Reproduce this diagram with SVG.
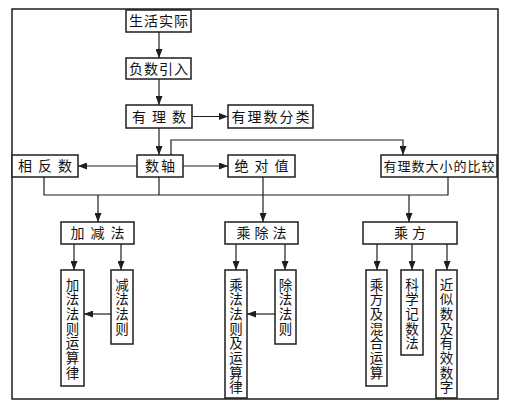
<svg xmlns="http://www.w3.org/2000/svg" width="516" height="413" viewBox="0 0 516 413">
<style>
.box{fill:#fff;stroke:#1e1e1e;stroke-width:1.5}
.frame{fill:none;stroke:#1e1e1e;stroke-width:1.5}
.ln{fill:none;stroke:#1e1e1e;stroke-width:1.2}
.t{font-family:"Noto Sans CJK SC","Noto Sans CJK TC",sans-serif;font-size:14px;fill:#111}
.s{font-size:13px}
.v{font-family:"Noto Sans CJK SC","Noto Sans CJK TC",sans-serif;font-size:13.5px;fill:#111;text-anchor:middle}
</style>
<defs>
<marker id="ah" markerUnits="userSpaceOnUse" markerWidth="9" markerHeight="7" refX="9" refY="3.5" orient="auto">
<path d="M0,0 L9,3.5 L0,7 z" fill="#1e1e1e"/>
</marker>
</defs>
<rect width="516" height="413" fill="#fff"/>
<rect class="frame" x="12" y="9" width="486" height="390"/>
<g id="connectors">
<path class="ln" d="M159,32 V58" marker-end="url(#ah)"/>
<path class="ln" d="M159,79 V105" marker-end="url(#ah)"/>
<path class="ln" d="M192,116.5 H228" marker-end="url(#ah)"/>
<path class="ln" d="M159,128 V155" marker-end="url(#ah)"/>
<path class="ln" d="M171,155 V140 H403 V155" marker-end="url(#ah)"/>
<path class="ln" d="M137,166 H78" marker-end="url(#ah)"/>
<path class="ln" d="M183,166 H228" marker-end="url(#ah)"/>
<path class="ln" d="M44,177 V195 H448 V177"/>
<path class="ln" d="M159,177 V195"/>
<path class="ln" d="M263,177 V222" marker-end="url(#ah)"/>
<path class="ln" d="M98,195 V222" marker-end="url(#ah)"/>
<path class="ln" d="M409,195 V222" marker-end="url(#ah)"/>
<path class="ln" d="M74,244 V270" marker-end="url(#ah)"/>
<path class="ln" d="M121,244 V270" marker-end="url(#ah)"/>
<path class="ln" d="M236,244 V270" marker-end="url(#ah)"/>
<path class="ln" d="M285,244 V270" marker-end="url(#ah)"/>
<path class="ln" d="M377,244 V270" marker-end="url(#ah)"/>
<path class="ln" d="M412,244 V270" marker-end="url(#ah)"/>
<path class="ln" d="M447,244 V270" marker-end="url(#ah)"/>
<path class="ln" d="M111,314 H84" marker-end="url(#ah)"/>
<path class="ln" d="M275,314 H247" marker-end="url(#ah)"/>
</g>
<g id="n1"><rect class="box" x="126" y="10" width="65" height="22"/><text class="t" x="129 144 159 174" y="26">生活实际</text></g>
<g id="n2"><rect class="box" x="126" y="58" width="65" height="21"/><text class="t" x="129 144 159 174" y="73.5">负数引入</text></g>
<g id="n3"><rect class="box" x="126" y="105" width="66" height="23"/><text class="t" x="132 152 172" y="121.5">有理数</text></g>
<g id="n4"><rect class="box" x="228" y="105" width="85" height="23"/><text class="t" x="231.5 247.5 263.5 279.5 295.5" y="121.5">有理数分类</text></g>
<g id="n5"><rect class="box" x="137" y="155" width="46" height="22"/><text class="t" x="145 161" y="171">数轴</text></g>
<g id="n6"><rect class="box" x="12" y="155" width="66" height="22"/><text class="t" x="18 38 58" y="171">相反数</text></g>
<g id="n7"><rect class="box" x="228" y="155" width="67" height="22"/><text class="t" x="234.5 254.5 274.5" y="171">绝对值</text></g>
<g id="n8"><rect class="box" x="381" y="155" width="116" height="22"/><text class="t s" x="383.5 397.5 411.5 425.5 439.5 453.5 467.5 481.5" y="170.5">有理数大小的比较</text></g>
<g id="n9"><rect class="box" x="61" y="222" width="73" height="22"/><text class="t" x="70.5 90.5 110.5" y="238">加减法</text></g>
<g id="n10"><rect class="box" x="225" y="222" width="73" height="22"/><text class="t" x="236.5 254.5 272.5" y="238">乘除法</text></g>
<g id="n11"><rect class="box" x="363" y="222" width="94" height="22"/><text class="t" x="394 412" y="238">乘方</text></g>
<g id="n12"><rect class="box" x="61" y="270" width="23" height="116"/><text class="v" x="72.5 72.5 72.5 72.5 72.5 72.5 72.5" y="289.5 304.2 318.9 333.6 348.3 363 377.7">加法法则运算律</text></g>
<g id="n13"><rect class="box" x="111" y="270" width="22" height="74"/><text class="v" x="122 122 122 122" y="289.5 304.2 318.9 333.6">减法法则</text></g>
<g id="n14"><rect class="box" x="225" y="270" width="22" height="128"/><text class="v" x="236 236 236 236 236 236 236 236" y="289.5 304.2 318.9 333.6 348.3 363 377.7 392.4">乘法法则及运算律</text></g>
<g id="n15"><rect class="box" x="275" y="270" width="21" height="74"/><text class="v" x="285.5 285.5 285.5 285.5" y="289.5 304.2 318.9 333.6">除法法则</text></g>
<g id="n16"><rect class="box" x="366" y="270" width="21" height="116"/><text class="v" x="376.5 376.5 376.5 376.5 376.5 376.5 376.5" y="289.5 304.2 318.9 333.6 348.3 363 377.7">乘方及混合运算</text></g>
<g id="n17"><rect class="box" x="401" y="270" width="22" height="85"/><text class="v" x="412 412 412 412 412" y="289.5 304.2 318.9 333.6 348.3">科学记数法</text></g>
<g id="n18"><rect class="box" x="436" y="270" width="21" height="128"/><text class="v" x="446.5 446.5 446.5 446.5 446.5 446.5 446.5 446.5" y="289.5 304.2 318.9 333.6 348.3 363 377.7 392.4">近似数及有效数字</text></g>
</svg>
